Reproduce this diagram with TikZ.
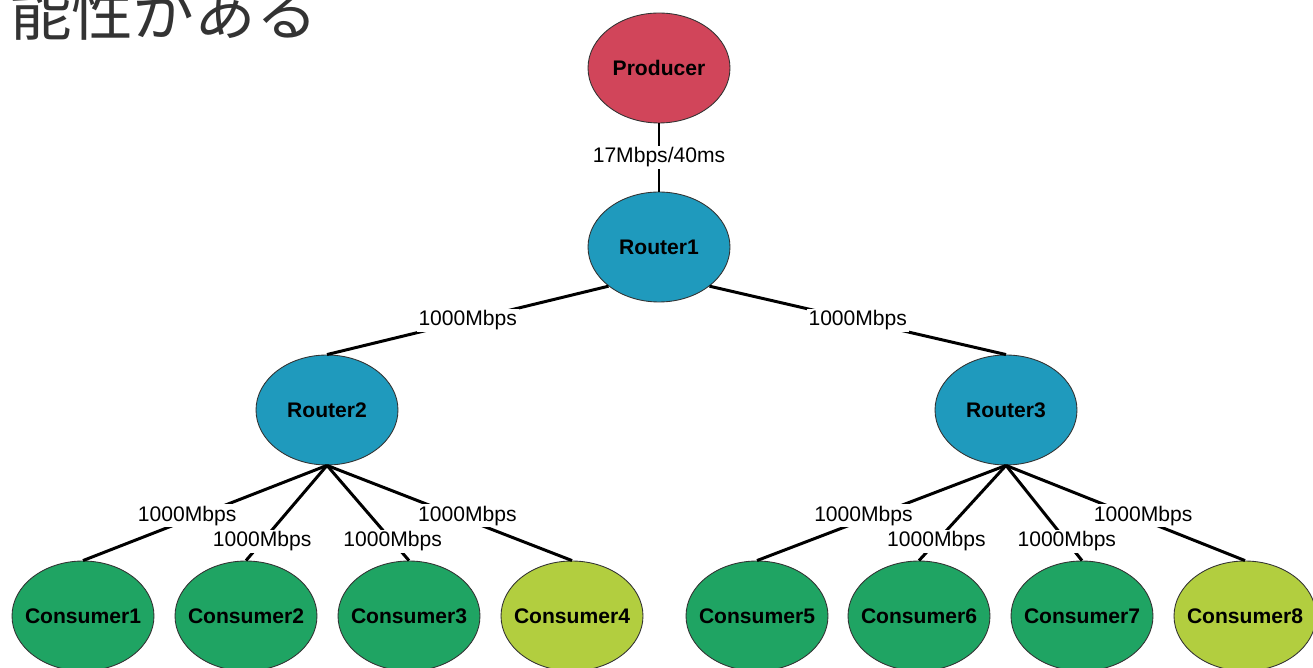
\documentclass[tikz,border=0pt]{standalone}
\usepackage{fontspec}
\setmainfont{Liberation Sans}
\newfontfamily\jpfont{Noto Sans CJK JP}
\usetikzlibrary{shapes.geometric}

\definecolor{prodred}{HTML}{D1455A}
\definecolor{routblue}{HTML}{1F9ABD}
\definecolor{consgreen}{HTML}{1FA463}
\definecolor{conslime}{HTML}{B2CE3F}

\begin{document}
\begin{tikzpicture}[x=0.02cm,y=-0.02cm]
    \tikzstyle{host} = [ellipse,draw=black!80,line width=0.5pt,inner xsep=-8pt,inner ysep=0pt,
        minimum width=2.84cm,minimum height=2.2cm,font=\fontsize{12}{14}\selectfont\bfseries]
    \tikzstyle{link} = [line width=1.7pt]
    \tikzstyle{rate} = [fill=white,inner sep=1pt,font=\fontsize{12}{14}\selectfont]

    \clip (0,0) rectangle (1313,668);

    \node[anchor=base west,inner sep=0pt,text=black!80,font=\jpfont\fontsize{35}{40}\selectfont] (title) at (10,36) {能性がある};

    \node[host,fill=prodred] (P) at (659,68) {Producer};
    \node[host,fill=routblue] (R1) at (659,247) {Router1};
    \node[host,fill=routblue] (R2) at (327,410) {Router2};
    \node[host,fill=routblue] (R3) at (1006,410) {Router3};

    \node[host,fill=consgreen] (C1) at (83,616) {Consumer1};
    \node[host,fill=consgreen] (C2) at (246,616) {Consumer2};
    \node[host,fill=consgreen] (C3) at (409,616) {Consumer3};
    \node[host,fill=conslime] (C4) at (572,616) {Consumer4};

    \node[host,fill=consgreen] (C5) at (757,616) {Consumer5};
    \node[host,fill=consgreen] (C6) at (919,616) {Consumer6};
    \node[host,fill=consgreen] (C7) at (1082,616) {Consumer7};
    \node[host,fill=conslime] (C8) at (1245,616) {Consumer8};

    \draw[link] (P.south) -- node[rate] {17Mbps/40ms} (R1.north);

    \draw[link] (R1.south west) -- node[rate] {1000Mbps} (R2.north);
    \draw[link] (R1.south east) -- node[rate] {1000Mbps} (R3.north);

    \draw[link] (R2.south) -- node[rate,pos=0.53,xshift=-6pt] {1000Mbps} (C1.north);
    \draw[link] (R2.south) -- node[rate,pos=0.8] {1000Mbps} (C2.north);
    \draw[link] (R2.south) -- node[rate,pos=0.8] {1000Mbps} (C3.north);
    \draw[link] (R2.south) -- node[rate,pos=0.53,xshift=6pt] {1000Mbps} (C4.north);

    \draw[link] (R3.south) -- node[rate,pos=0.53,xshift=-6pt] {1000Mbps} (C5.north);
    \draw[link] (R3.south) -- node[rate,pos=0.8] {1000Mbps} (C6.north);
    \draw[link] (R3.south) -- node[rate,pos=0.8] {1000Mbps} (C7.north);
    \draw[link] (R3.south) -- node[rate,pos=0.53,xshift=6pt] {1000Mbps} (C8.north);

\end{tikzpicture}
\end{document}
